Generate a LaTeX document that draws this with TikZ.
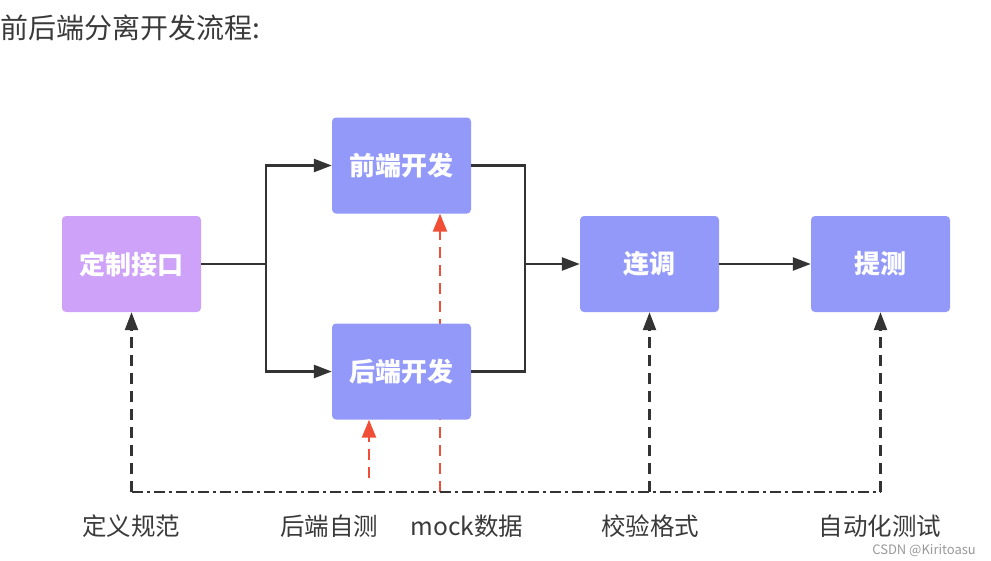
\documentclass[tikz,border=0pt]{standalone}
\usepackage{fontspec}
\setmainfont{Noto Sans CJK SC}
\usetikzlibrary{arrows.meta}
\usetikzlibrary{backgrounds}
\definecolor{boxblue}{HTML}{9399F9}
\definecolor{boxpurple}{HTML}{CDA2F8}
\definecolor{linegray}{HTML}{333333}
\definecolor{mockred}{HTML}{F04E37}
\definecolor{textgray}{HTML}{3A3A3A}

\begin{document}
\begin{tikzpicture}[x=1pt, y=-1pt,
	stepbox/.style={fill=boxblue, rounded corners=4pt, minimum width=139pt, minimum height=96pt, text=white, font=\fontsize{26}{29}\selectfont\bfseries},
	flow/.style={draw=linegray, line width=2.6pt},
	tip/.style={-{Triangle[length=18pt, width=13pt]}},
	check/.style={draw=linegray, line width=2.4pt, dash pattern=on 11pt off 7pt, -{Triangle[length=18pt, width=13pt]}},
	mock/.style={draw=mockred, line width=2.4pt, dash pattern=on 11pt off 7pt, -{Triangle[length=18pt, width=14pt]}},
	caption/.style={text=textgray, font=\fontsize{24.5}{27}\selectfont, inner sep=0pt}]
	\useasboundingbox (0,0) rectangle (991,560);

	\node[anchor=west, text=textgray, font=\fontsize{28}{32}\selectfont, inner sep=0pt] (title) at (0,28) {前后端分离开发流程:};

	\node[stepbox, fill=boxpurple] (api) at (131.5,264) {定制接口};
	\node[stepbox] (front) at (401.5,165.5) {前端开发};
	\node[stepbox] (back) at (401.5,371.5) {后端开发};
	\node[stepbox] (joint) at (649.5,264) {连调};
	\node[stepbox] (qa) at (880.5,264) {提测};

	\coordinate (split) at (266,264);
	\coordinate (merge) at (525,264);
	\draw[flow] (api.east) -- (split);
	\draw[flow, tip] (split) |- (front.west);
	\draw[flow, tip] (split) |- (back.west);
	\draw[flow] (front.east) -| (merge);
	\draw[flow] (back.east) -| (merge);
	\draw[flow, tip] (merge) -- (joint.west);
	\draw[flow, tip] (joint.east) -- (qa.west);

	\coordinate (base) at (131,492);
	\coordinate (selftest) at (369,478);
	\coordinate (mockdata) at (440,492);
	\draw[draw=linegray, line width=2.4pt, dash pattern=on 11pt off 4pt on 3pt off 4pt] (api.south |- base) -- (qa.south |- base);
	\draw[check] (api.south |- base) -- (api.south);
	\draw[check] (joint.south |- base) -- (joint.south);
	\draw[check] (qa.south |- base) -- (qa.south);
	\draw[mock] (selftest) -- (selftest |- back.south);
	\begin{scope}[on background layer]
		\draw[mock] (mockdata) -- (mockdata |- front.south);
	\end{scope}

	\node[caption] (spec) at (131,526) {定义规范};
	\node[caption] (unit) at (329,526) {后端自测};
	\node[caption] (data) at (467,526) {mock数据};
	\node[caption] (format) at (650,526) {校验格式};
	\node[caption] (auto) at (880,526) {自动化测试};

	\node[anchor=south east, text=gray!80, font=\fontsize{13}{15}\selectfont, inner sep=0pt] (mark) at (976,557) {CSDN @Kiritoasu};
\end{tikzpicture}
\end{document}
